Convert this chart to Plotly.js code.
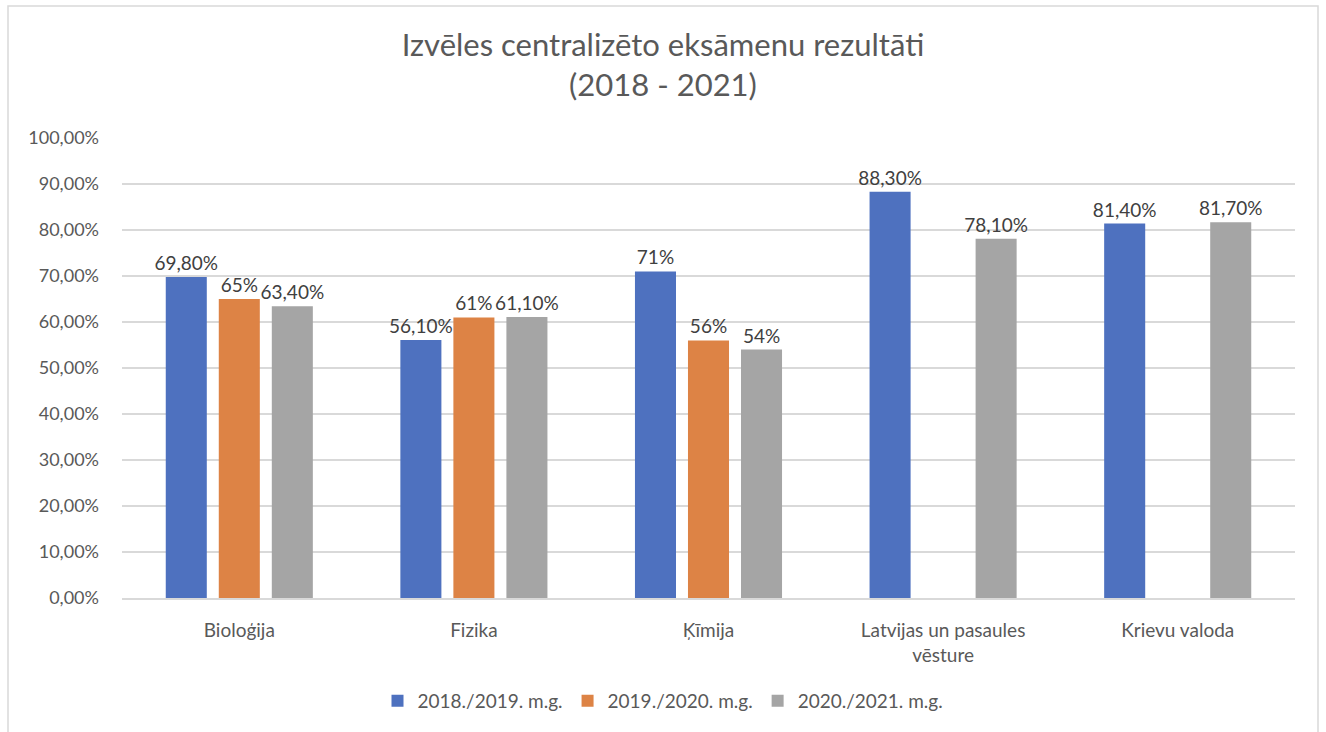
<!DOCTYPE html>
<html><head><meta charset="utf-8">
<script src="https://cdn.plot.ly/plotly-3.0.1.min.js"></script>
<style>html,body{margin:0;padding:0;background:#fff}#chart{width:1326px;height:732px}</style>
</head><body><div id="chart"></div>
<script>
const categories = ["Bioloģija", "Fizika", "Ķīmija", "Latvijas un pasaules<br>vēsture", "Krievu valoda"];
const seriesNames = ["2018./2019. m.g.", "2019./2020. m.g.", "2020./2021. m.g."];
const values2018 = [0.698, 0.561, 0.71, 0.883, 0.814];
const values2019 = [0.65, 0.61, 0.56, null, null];
const values2020 = [0.634, 0.611, 0.54, 0.781, 0.817];
const labels2018 = ["69,80%", "56,10%", "71%", "88,30%", "81,40%"];
const labels2019 = ["65%", "61%", "56%", "", ""];
const labels2020 = ["63,40%", "61,10%", "54%", "78,10%", "81,70%"];
const colors = ["#4e71bf", "#dd8345", "#a5a5a5"];

const font = "Lato, 'Open Sans', sans-serif";
function mk(name, y, text, color) {
  return {
    type: "bar", name: name, x: categories, y: y, text: text,
    textposition: "outside", constraintext: "none", cliponaxis: false,
    textfont: {family: font, size: 19, color: "#404040"},
    marker: {color: color}, hoverinfo: "skip"
  };
}
const data = [
  mk(seriesNames[0], values2018, labels2018, colors[0]),
  mk(seriesNames[1], values2019, labels2019, colors[1]),
  mk(seriesNames[2], values2020, labels2020, colors[2])
];
const L = 122, R = 31, T = 138, B = 134;
const pw = 1326 - L - R, ph = 732 - T - B;
const layout = {
  width: 1326, height: 732,
  margin: {l: L, r: R, t: T, b: B, pad: 0},
  paper_bgcolor: "#fff", plot_bgcolor: "#fff",
  separators: ", ",
  font: {family: font, color: "#595959", size: 18},
  title: {text: "Izvēles centralizēto eksāmenu rezultāti<br>(2018 - 2021)",
          font: {family: font, size: 31, color: "#595959"},
          x: 0.5, xanchor: "center", xref: "container", yref: "container",
          y: 1 - 56 / 732, yanchor: "middle"},
  barmode: "group", bargap: 0.322, bargroupgap: 0.226,
  xaxis: {type: "category", showgrid: false, zeroline: false, showline: true,
          linecolor: "#d9d9d9", linewidth: 1.5, ticks: "",
          tickfont: {family: font, size: 19, color: "#595959"}, ticklabelstandoff: 15},
  yaxis: {range: [0, 1], dtick: 0.1, tickformat: ".2%", showgrid: true,
          gridcolor: "#d9d9d9", gridwidth: 1.5, zeroline: false, showline: false,
          ticks: "", tickfont: {family: font, size: 18, color: "#595959"}, ticklabelstandoff: 22},
  showlegend: true,
  legend: {orientation: "h", x: (663 - L) / pw, xanchor: "center",
           y: (598 - 701) / ph, yanchor: "middle",
           font: {family: font, size: 19, color: "#595959"}, itemwidth: 30},
  shapes: [{type: "rect", xref: "paper", yref: "paper",
            x0: (8 - L) / pw, x1: (1318 - L) / pw, y0: (598 - 745) / ph, y1: (598 - 6) / ph,
            line: {color: "#d9d9d9", width: 1.5}, fillcolor: "rgba(0,0,0,0)", layer: "below"}]
};
Plotly.newPlot("chart", data, layout, {displayModeBar: false, staticPlot: true});
</script></body></html>
